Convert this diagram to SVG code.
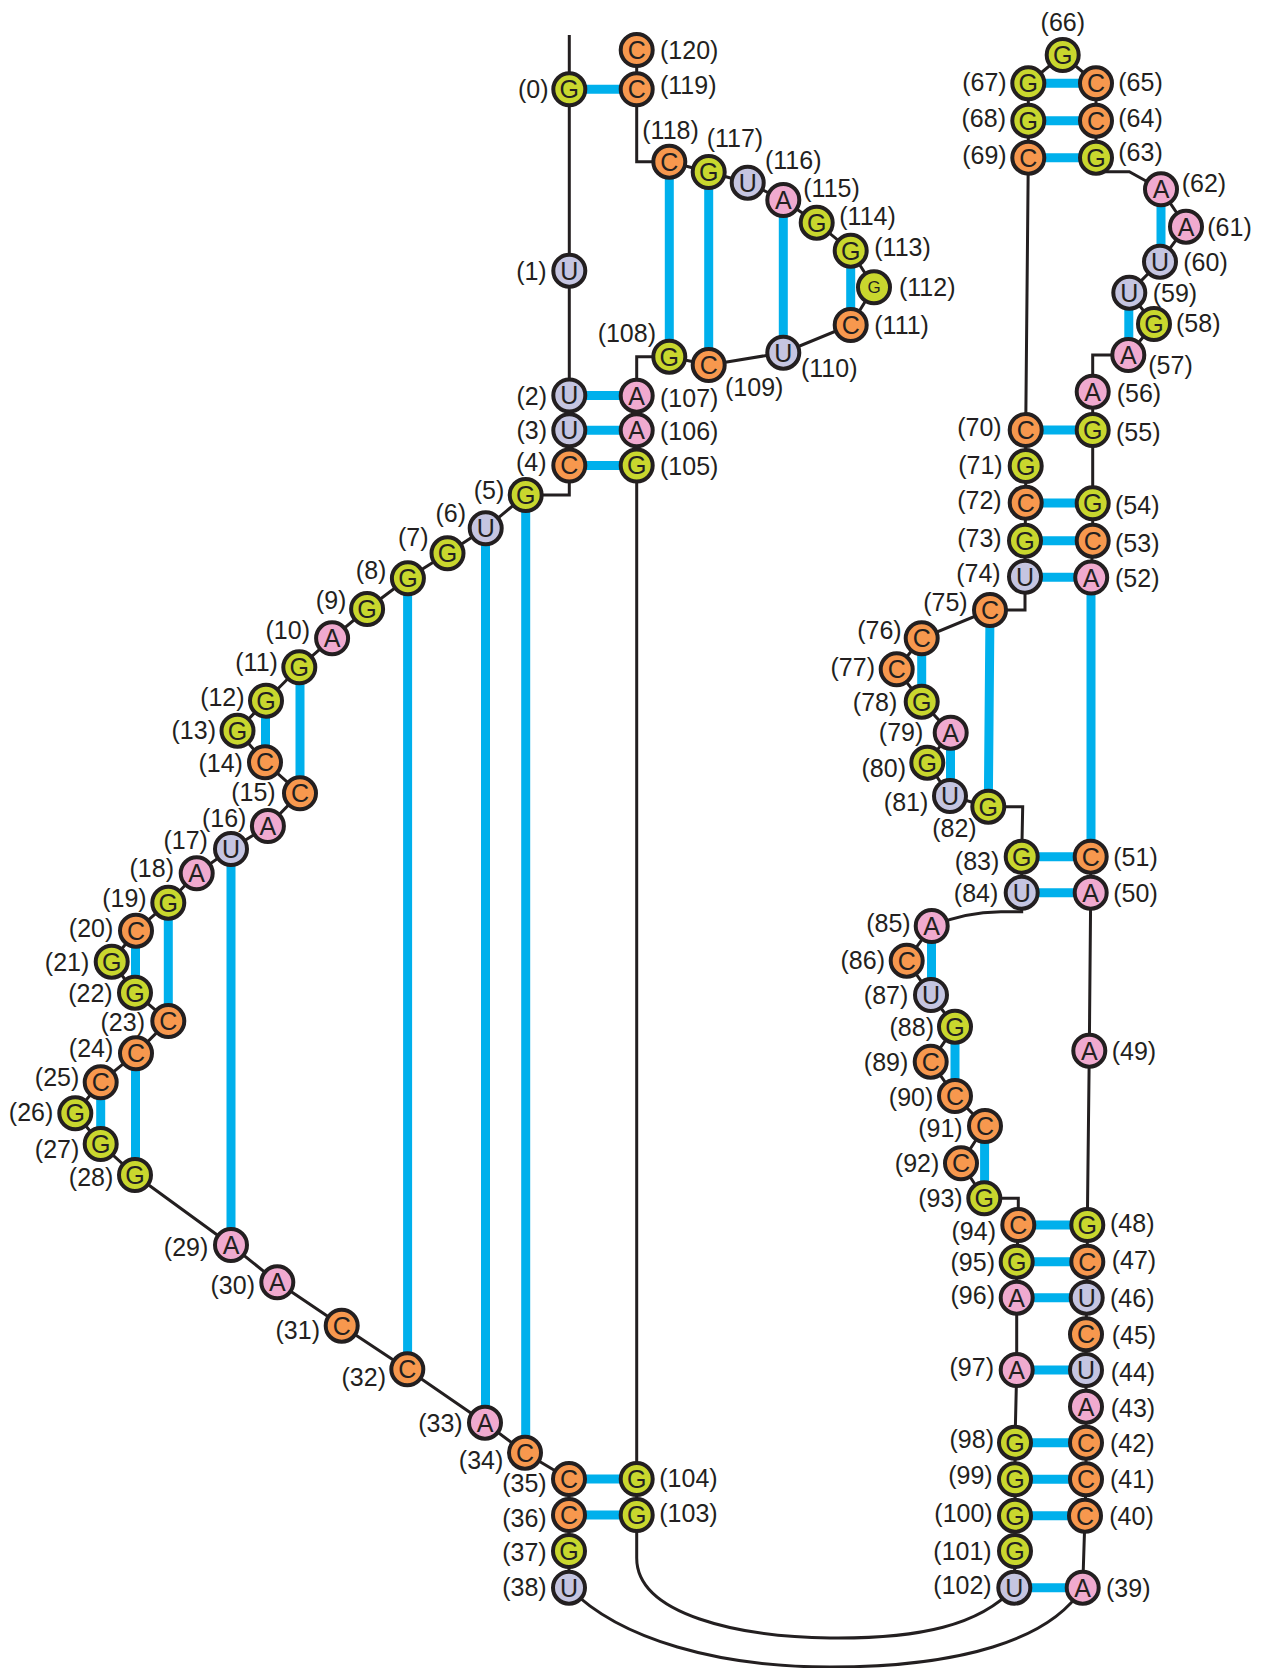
<svg xmlns="http://www.w3.org/2000/svg" width="1270" height="1668" viewBox="0 0 1270 1668">
<style>
  .bb{fill:none;stroke:#231f20;stroke-width:3;stroke-linejoin:miter}
  .bp{fill:none;stroke:#00b0ec;stroke-width:9}
  circle{stroke:#231f20;stroke-width:4;r:16px}
  .A{fill:#f0aacf}
  .C{fill:#f7984e}
  .G{fill:#c9d72e}
  .U{fill:#c5c5e1}
  text{font-family:"Liberation Sans",Arial,Helvetica,sans-serif;fill:#231f20}
  .b{font-size:25px;text-anchor:middle}
  .bs{font-size:17px;text-anchor:middle}
  .l{font-size:25px}
  .le{text-anchor:end}
  .lm{text-anchor:middle}
</style>
<rect width="1270" height="1668" fill="#ffffff"/>

<!-- connectors: backbone then base pairs -->
<g id="connectors">
  <g id="backbone">
    <polyline class="bb" points="569.3,35 569.3,89.3 569.3,270.7 569.3,395.5 569.3,430.3 569.3,465.5 569.3,495 525.7,495 485.7,528.3 447.5,553.3 407.9,578.3 367.1,609 332.1,638.3 299.3,667.3 266,700.7 237.5,730.7 265,762.3 300,793.3 267.9,826 231,849 196.7,873.3 168.3,902.7 136,930.7 111.7,961.7 135,992.7 168.3,1021 136,1053.3 100.7,1082.3 75.3,1113.3 100.7,1144 135,1175 231,1245 277.3,1282.3 341.7,1325.7 407.3,1369.3 485,1422.7 525,1452.7 569,1479 569,1515 569,1551 569,1587.7"/>
    <path class="bb" d="M569,1587.7 C620,1640 720,1667 830,1667 C960,1667 1050,1640 1082.7,1587.7"/>
    <path class="bb" d="M1082.7,1587.7 L1085,1515.7 L1086,1479.3 L1086,1442.7 L1086,1406.7 L1086,1370 L1086,1334.3 L1086.7,1297.7 L1087.3,1261.7 L1087.3,1225 L1089.3,1050.7 L1090.7,892.7 L1090.7,856.7 L1091.2,577.6 L1092.7,540.7 L1092.7,503.3 L1092.7,430 L1092.7,391.7 L1092.7,355 L1128.3,355 L1154,324 L1129.3,292.7 L1160,261.7 L1186,226.7 L1161,189.3 L1129.3,171.7 L1096,171.7 L1096,157.7 L1096,120.7 L1096,83.3 L1062.7,55 L1028.3,83.3 L1028.3,120.7 L1028.3,157.7 L1025.7,430 L1025.7,466 L1025.7,502.7 L1025,540.7 L1025,576.7 L1025,610 L990,610 L921.7,638.3 L896.7,669.3 L921.7,701.7 L950.7,732.7 L927.3,762.7 L950,796 L988.3,806.7 L1022.7,806.7 L1021.7,856.7 L1021.7,892.7 L1021.7,911.7 L1001,911.7 Q965,912 931.7,926 L906.7,960.7 L931,995 L955,1026.7 L930.7,1061.7 L955,1096 L985,1126 L961,1163.3 L984.3,1198.3 L1018.3,1198.3 L1018.3,1225 L1016.7,1261.7 L1016.7,1297.7 L1016.7,1370 L1015,1442.7 L1015,1479.3 L1015,1515.7 L1015,1551 L1014.3,1587.7"/>
    <path class="bb" d="M636.7,1515 V1558 C636.7,1615 740,1637 830,1638 C920,1639 980,1625 1014.3,1587.7"/>
    <polyline class="bb" points="636.7,1515 636.7,1479 636.7,465.5 636.7,430.3 636.7,395.7 636.7,356.7 669.3,356.7 708.7,365 783.3,352.7 850.7,325 874,287.3 850.7,250.7 816.7,222.7 783.3,200 747.7,182.7 708.7,172 669.3,161.7 636.7,161.7 636.7,89.3 636.7,50"/>
  </g>
  <g id="pairs">
    <path class="bp" d="M569.3,89.3 H636.7 M569.3,395.6 H636.7 M569.3,430.3 H636.7 M569.3,465.5 H636.7 M569,1479 H636.7 M569,1515 H636.7"/>
    <path class="bp" d="M1028.3,83.3 H1096 M1028.3,120.7 H1096 M1028.3,157.7 H1096 M1025.7,430 H1092.7 M1025.7,503 H1092.7 M1025,540.7 H1092.7 M1025,577.2 H1091.2 M1021.7,856.7 H1090.7 M1021.7,892.7 H1090.7"/>
    <path class="bp" d="M1018.3,1225 H1087.3 M1016.7,1261.7 H1087.3 M1016.7,1297.7 H1086.7 M1016.7,1370 H1086 M1015,1442.7 H1086 M1015,1479.3 H1086 M1015,1515.7 H1085 M1014.3,1587.7 H1082.7"/>
    <path class="bp" d="M669.3,161.7 V356.7 M708.7,172 V365 M783.3,200 V352.7 M850.7,250.7 V325"/>
    <path class="bp" d="M525.7,495 V1452.7 M485.5,528.3 V1422.7 M407.6,578.3 V1369.3 M300,667.3 V793.3 M265.5,700.7 V762.3 M231,849 V1245 M168.3,902.7 V1021 M135.5,930.7 V992.7 M135.5,1053.3 V1175 M100.7,1082.3 V1144"/>
    <path class="bp" d="M1161,189.3 V261.7 M1128.8,292.7 V355 M990,610 L988.3,806.7 M921.7,638.3 V701.7 M950.5,732.7 V796 M1091,577.6 V856.7 M931.5,926 V995 M955,1026.7 V1096 M984.6,1126 V1198.3"/>
  </g>
</g>

<!-- nucleotides -->
<g id="nodes">
<g id="n0"><circle class="G" cx="569.3" cy="89.3" r="16"/><text class="b" x="569.3" y="98.2">G</text><text class="l le" x="548.5" y="98.3">(0)</text></g>
<g id="n1"><circle class="U" cx="569.3" cy="270.7" r="16"/><text class="b" x="569.3" y="279.6">U</text><text class="l le" x="546.7" y="279.7">(1)</text></g>
<g id="n2"><circle class="U" cx="569.3" cy="395.5" r="16"/><text class="b" x="569.3" y="404.4">U</text><text class="l le" x="547" y="404.5">(2)</text></g>
<g id="n3"><circle class="U" cx="569.3" cy="430.3" r="16"/><text class="b" x="569.3" y="439.2">U</text><text class="l le" x="547" y="439.3">(3)</text></g>
<g id="n4"><circle class="C" cx="569.3" cy="465.5" r="16"/><text class="b" x="569.3" y="474.4">C</text><text class="l le" x="546.5" y="470.7">(4)</text></g>
<g id="n5"><circle class="G" cx="525.7" cy="495" r="16"/><text class="b" x="525.7" y="503.9">G</text><text class="l le" x="504.3" y="499">(5)</text></g>
<g id="n6"><circle class="U" cx="485.7" cy="528.3" r="16"/><text class="b" x="485.7" y="537.2">U</text><text class="l le" x="466" y="522.3">(6)</text></g>
<g id="n7"><circle class="G" cx="447.5" cy="553.3" r="16"/><text class="b" x="447.5" y="562.2">G</text><text class="l le" x="428.6" y="545.7">(7)</text></g>
<g id="n8"><circle class="G" cx="407.9" cy="578.3" r="16"/><text class="b" x="407.9" y="587.2">G</text><text class="l le" x="386.4" y="579">(8)</text></g>
<g id="n9"><circle class="G" cx="367.1" cy="609" r="16"/><text class="b" x="367.1" y="617.9">G</text><text class="l le" x="346.4" y="609">(9)</text></g>
<g id="n10"><circle class="A" cx="332.1" cy="638.3" r="16"/><text class="b" x="332.1" y="647.2">A</text><text class="l le" x="310" y="639">(10)</text></g>
<g id="n11"><circle class="G" cx="299.3" cy="667.3" r="16"/><text class="b" x="299.3" y="676.2">G</text><text class="l le" x="277.9" y="670.7">(11)</text></g>
<g id="n12"><circle class="G" cx="266" cy="700.7" r="16"/><text class="b" x="266" y="709.6">G</text><text class="l le" x="244.6" y="705.7">(12)</text></g>
<g id="n13"><circle class="G" cx="237.5" cy="730.7" r="16"/><text class="b" x="237.5" y="739.6">G</text><text class="l le" x="216" y="739">(13)</text></g>
<g id="n14"><circle class="C" cx="265" cy="762.3" r="16"/><text class="b" x="265" y="771.2">C</text><text class="l le" x="242.9" y="772.3">(14)</text></g>
<g id="n15"><circle class="C" cx="300" cy="793.3" r="16"/><text class="b" x="300" y="802.2">C</text><text class="l le" x="275.7" y="800.7">(15)</text></g>
<g id="n16"><circle class="A" cx="267.9" cy="826" r="16"/><text class="b" x="267.9" y="834.9">A</text><text class="l le" x="246.4" y="827.3">(16)</text></g>
<g id="n17"><circle class="U" cx="231" cy="849" r="16"/><text class="b" x="231" y="857.9">U</text><text class="l le" x="207.9" y="849">(17)</text></g>
<g id="n18"><circle class="A" cx="196.7" cy="873.3" r="16"/><text class="b" x="196.7" y="882.2">A</text><text class="l le" x="174" y="877.3">(18)</text></g>
<g id="n19"><circle class="G" cx="168.3" cy="902.7" r="16"/><text class="b" x="168.3" y="911.6">G</text><text class="l le" x="146.7" y="907.3">(19)</text></g>
<g id="n20"><circle class="C" cx="136" cy="930.7" r="16"/><text class="b" x="136" y="939.6">C</text><text class="l le" x="113.3" y="937.3">(20)</text></g>
<g id="n21"><circle class="G" cx="111.7" cy="961.7" r="16"/><text class="b" x="111.7" y="970.6">G</text><text class="l le" x="89.3" y="970.7">(21)</text></g>
<g id="n22"><circle class="G" cx="135" cy="992.7" r="16"/><text class="b" x="135" y="1001.6">G</text><text class="l le" x="112.7" y="1001.7">(22)</text></g>
<g id="n23"><circle class="C" cx="168.3" cy="1021" r="16"/><text class="b" x="168.3" y="1029.9">C</text><text class="l le" x="145" y="1030.7">(23)</text></g>
<g id="n24"><circle class="C" cx="136" cy="1053.3" r="16"/><text class="b" x="136" y="1062.2">C</text><text class="l le" x="113.3" y="1057.3">(24)</text></g>
<g id="n25"><circle class="C" cx="100.7" cy="1082.3" r="16"/><text class="b" x="100.7" y="1091.2">C</text><text class="l le" x="79.3" y="1086.3">(25)</text></g>
<g id="n26"><circle class="G" cx="75.3" cy="1113.3" r="16"/><text class="b" x="75.3" y="1122.2">G</text><text class="l le" x="53.3" y="1120.7">(26)</text></g>
<g id="n27"><circle class="G" cx="100.7" cy="1144" r="16"/><text class="b" x="100.7" y="1152.9">G</text><text class="l le" x="79.3" y="1158.3">(27)</text></g>
<g id="n28"><circle class="G" cx="135" cy="1175" r="16"/><text class="b" x="135" y="1183.9">G</text><text class="l le" x="113.3" y="1186.3">(28)</text></g>
<g id="n29"><circle class="A" cx="231" cy="1245" r="16"/><text class="b" x="231" y="1253.9">A</text><text class="l le" x="208.3" y="1256.3">(29)</text></g>
<g id="n30"><circle class="A" cx="277.3" cy="1282.3" r="16"/><text class="b" x="277.3" y="1291.2">A</text><text class="l le" x="255" y="1294">(30)</text></g>
<g id="n31"><circle class="C" cx="341.7" cy="1325.7" r="16"/><text class="b" x="341.7" y="1334.6">C</text><text class="l le" x="320" y="1339">(31)</text></g>
<g id="n32"><circle class="C" cx="407.3" cy="1369.3" r="16"/><text class="b" x="407.3" y="1378.2">C</text><text class="l le" x="386" y="1385.7">(32)</text></g>
<g id="n33"><circle class="A" cx="485" cy="1422.7" r="16"/><text class="b" x="485" y="1431.6">A</text><text class="l le" x="462.7" y="1432.3">(33)</text></g>
<g id="n34"><circle class="C" cx="525" cy="1452.7" r="16"/><text class="b" x="525" y="1461.6">C</text><text class="l le" x="503.3" y="1469">(34)</text></g>
<g id="n35"><circle class="C" cx="569" cy="1479" r="16"/><text class="b" x="569" y="1487.9">C</text><text class="l le" x="546.7" y="1492.3">(35)</text></g>
<g id="n36"><circle class="C" cx="569" cy="1515" r="16"/><text class="b" x="569" y="1523.9">C</text><text class="l le" x="546.7" y="1527.3">(36)</text></g>
<g id="n37"><circle class="G" cx="569" cy="1551" r="16"/><text class="b" x="569" y="1559.9">G</text><text class="l le" x="546.7" y="1560.7">(37)</text></g>
<g id="n38"><circle class="U" cx="569" cy="1587.7" r="16"/><text class="b" x="569" y="1596.6">U</text><text class="l le" x="546.7" y="1595.7">(38)</text></g>
<g id="n39"><circle class="A" cx="1082.7" cy="1587.7" r="16"/><text class="b" x="1082.7" y="1596.6">A</text><text class="l" x="1106" y="1596.7">(39)</text></g>
<g id="n40"><circle class="C" cx="1085" cy="1515.7" r="16"/><text class="b" x="1085" y="1524.6">C</text><text class="l" x="1109.3" y="1524.7">(40)</text></g>
<g id="n41"><circle class="C" cx="1086" cy="1479.3" r="16"/><text class="b" x="1086" y="1488.2">C</text><text class="l" x="1110" y="1488.3">(41)</text></g>
<g id="n42"><circle class="C" cx="1086" cy="1442.7" r="16"/><text class="b" x="1086" y="1451.6">C</text><text class="l" x="1110" y="1451.7">(42)</text></g>
<g id="n43"><circle class="A" cx="1086" cy="1406.7" r="16"/><text class="b" x="1086" y="1415.6">A</text><text class="l" x="1110.7" y="1417.3">(43)</text></g>
<g id="n44"><circle class="U" cx="1086" cy="1370" r="16"/><text class="b" x="1086" y="1378.9">U</text><text class="l" x="1110.7" y="1380.7">(44)</text></g>
<g id="n45"><circle class="C" cx="1086" cy="1334.3" r="16"/><text class="b" x="1086" y="1343.2">C</text><text class="l" x="1111.7" y="1344">(45)</text></g>
<g id="n46"><circle class="U" cx="1086.7" cy="1297.7" r="16"/><text class="b" x="1086.7" y="1306.6">U</text><text class="l" x="1110" y="1306.7">(46)</text></g>
<g id="n47"><circle class="C" cx="1087.3" cy="1261.7" r="16"/><text class="b" x="1087.3" y="1270.6">C</text><text class="l" x="1111.7" y="1269">(47)</text></g>
<g id="n48"><circle class="G" cx="1087.3" cy="1225" r="16"/><text class="b" x="1087.3" y="1233.9">G</text><text class="l" x="1110" y="1231.7">(48)</text></g>
<g id="n49"><circle class="A" cx="1089.3" cy="1050.7" r="16"/><text class="b" x="1089.3" y="1059.6">A</text><text class="l" x="1111.7" y="1059.7">(49)</text></g>
<g id="n50"><circle class="A" cx="1090.7" cy="892.7" r="16"/><text class="b" x="1090.7" y="901.6">A</text><text class="l" x="1113.3" y="901.7">(50)</text></g>
<g id="n51"><circle class="C" cx="1090.7" cy="856.7" r="16"/><text class="b" x="1090.7" y="865.6">C</text><text class="l" x="1113.3" y="865.7">(51)</text></g>
<g id="n52"><circle class="A" cx="1091.2" cy="577.6" r="16"/><text class="b" x="1091.2" y="586.5">A</text><text class="l" x="1115" y="587.3">(52)</text></g>
<g id="n53"><circle class="C" cx="1092.7" cy="540.7" r="16"/><text class="b" x="1092.7" y="549.6">C</text><text class="l" x="1115" y="551.7">(53)</text></g>
<g id="n54"><circle class="G" cx="1092.7" cy="503.3" r="16"/><text class="b" x="1092.7" y="512.2">G</text><text class="l" x="1115" y="514">(54)</text></g>
<g id="n55"><circle class="G" cx="1092.7" cy="430" r="16"/><text class="b" x="1092.7" y="438.9">G</text><text class="l" x="1116" y="440.7">(55)</text></g>
<g id="n56"><circle class="A" cx="1092.7" cy="391.7" r="16"/><text class="b" x="1092.7" y="400.6">A</text><text class="l" x="1116.7" y="402.3">(56)</text></g>
<g id="n57"><circle class="A" cx="1128.3" cy="355" r="16"/><text class="b" x="1128.3" y="363.9">A</text><text class="l" x="1148.3" y="374">(57)</text></g>
<g id="n58"><circle class="G" cx="1154" cy="324" r="16"/><text class="b" x="1154" y="332.9">G</text><text class="l" x="1176" y="332.3">(58)</text></g>
<g id="n59"><circle class="U" cx="1129.3" cy="292.7" r="16"/><text class="b" x="1129.3" y="301.6">U</text><text class="l" x="1152.7" y="301.7">(59)</text></g>
<g id="n60"><circle class="U" cx="1160" cy="261.7" r="16"/><text class="b" x="1160" y="270.6">U</text><text class="l" x="1183.3" y="270.7">(60)</text></g>
<g id="n61"><circle class="A" cx="1186" cy="226.7" r="16"/><text class="b" x="1186" y="235.6">A</text><text class="l" x="1207.3" y="235.7">(61)</text></g>
<g id="n62"><circle class="A" cx="1161" cy="189.3" r="16"/><text class="b" x="1161" y="198.2">A</text><text class="l" x="1181.7" y="192.3">(62)</text></g>
<g id="n63"><circle class="G" cx="1096" cy="157.7" r="16"/><text class="b" x="1096" y="166.6">G</text><text class="l" x="1118.3" y="160.7">(63)</text></g>
<g id="n64"><circle class="C" cx="1096" cy="120.7" r="16"/><text class="b" x="1096" y="129.6">C</text><text class="l" x="1118.3" y="127.3">(64)</text></g>
<g id="n65"><circle class="C" cx="1096" cy="83.3" r="16"/><text class="b" x="1096" y="92.2">C</text><text class="l" x="1118.3" y="90.7">(65)</text></g>
<g id="n66"><circle class="G" cx="1062.7" cy="55" r="16"/><text class="b" x="1062.7" y="63.9">G</text><text class="l lm" x="1062.8" y="30.7">(66)</text></g>
<g id="n67"><circle class="G" cx="1028.3" cy="83.3" r="16"/><text class="b" x="1028.3" y="92.2">G</text><text class="l le" x="1006.7" y="90.7">(67)</text></g>
<g id="n68"><circle class="G" cx="1028.3" cy="120.7" r="16"/><text class="b" x="1028.3" y="129.6">G</text><text class="l le" x="1006" y="127.3">(68)</text></g>
<g id="n69"><circle class="C" cx="1028.3" cy="157.7" r="16"/><text class="b" x="1028.3" y="166.6">C</text><text class="l le" x="1006.7" y="164">(69)</text></g>
<g id="n70"><circle class="C" cx="1025.7" cy="430" r="16"/><text class="b" x="1025.7" y="438.9">C</text><text class="l le" x="1001.7" y="436">(70)</text></g>
<g id="n71"><circle class="G" cx="1025.7" cy="466" r="16"/><text class="b" x="1025.7" y="474.9">G</text><text class="l le" x="1002.7" y="474">(71)</text></g>
<g id="n72"><circle class="C" cx="1025.7" cy="502.7" r="16"/><text class="b" x="1025.7" y="511.6">C</text><text class="l le" x="1001.7" y="509">(72)</text></g>
<g id="n73"><circle class="G" cx="1025" cy="540.7" r="16"/><text class="b" x="1025" y="549.6">G</text><text class="l le" x="1001.7" y="547.3">(73)</text></g>
<g id="n74"><circle class="U" cx="1025" cy="576.7" r="16"/><text class="b" x="1025" y="585.6">U</text><text class="l le" x="1000.7" y="582.3">(74)</text></g>
<g id="n75"><circle class="C" cx="990" cy="610" r="16"/><text class="b" x="990" y="618.9">C</text><text class="l le" x="967.7" y="610.7">(75)</text></g>
<g id="n76"><circle class="C" cx="921.7" cy="638.3" r="16"/><text class="b" x="921.7" y="647.2">C</text><text class="l le" x="901.7" y="639">(76)</text></g>
<g id="n77"><circle class="C" cx="896.7" cy="669.3" r="16"/><text class="b" x="896.7" y="678.2">C</text><text class="l le" x="875" y="675.7">(77)</text></g>
<g id="n78"><circle class="G" cx="921.7" cy="701.7" r="16"/><text class="b" x="921.7" y="710.6">G</text><text class="l le" x="897.3" y="710.7">(78)</text></g>
<g id="n79"><circle class="A" cx="950.7" cy="732.7" r="16"/><text class="b" x="950.7" y="741.6">A</text><text class="l le" x="923.3" y="740.7">(79)</text></g>
<g id="n80"><circle class="G" cx="927.3" cy="762.7" r="16"/><text class="b" x="927.3" y="771.6">G</text><text class="l le" x="906" y="777.3">(80)</text></g>
<g id="n81"><circle class="U" cx="950" cy="796" r="16"/><text class="b" x="950" y="804.9">U</text><text class="l le" x="928.3" y="810.7">(81)</text></g>
<g id="n82"><circle class="G" cx="988.3" cy="806.7" r="16"/><text class="b" x="988.3" y="815.6">G</text><text class="l le" x="976.7" y="837.3">(82)</text></g>
<g id="n83"><circle class="G" cx="1021.7" cy="856.7" r="16"/><text class="b" x="1021.7" y="865.6">G</text><text class="l le" x="999.3" y="869.7">(83)</text></g>
<g id="n84"><circle class="U" cx="1021.7" cy="892.7" r="16"/><text class="b" x="1021.7" y="901.6">U</text><text class="l le" x="998.3" y="901.7">(84)</text></g>
<g id="n85"><circle class="A" cx="931.7" cy="926" r="16"/><text class="b" x="931.7" y="934.9">A</text><text class="l le" x="910.7" y="932.3">(85)</text></g>
<g id="n86"><circle class="C" cx="906.7" cy="960.7" r="16"/><text class="b" x="906.7" y="969.6">C</text><text class="l le" x="885" y="969">(86)</text></g>
<g id="n87"><circle class="U" cx="931" cy="995" r="16"/><text class="b" x="931" y="1003.9">U</text><text class="l le" x="908.3" y="1004">(87)</text></g>
<g id="n88"><circle class="G" cx="955" cy="1026.7" r="16"/><text class="b" x="955" y="1035.6">G</text><text class="l le" x="934" y="1035.7">(88)</text></g>
<g id="n89"><circle class="C" cx="930.7" cy="1061.7" r="16"/><text class="b" x="930.7" y="1070.6">C</text><text class="l le" x="908.3" y="1070.7">(89)</text></g>
<g id="n90"><circle class="C" cx="955" cy="1096" r="16"/><text class="b" x="955" y="1104.9">C</text><text class="l le" x="933.3" y="1105.7">(90)</text></g>
<g id="n91"><circle class="C" cx="985" cy="1126" r="16"/><text class="b" x="985" y="1134.9">C</text><text class="l le" x="962.7" y="1137.3">(91)</text></g>
<g id="n92"><circle class="C" cx="961" cy="1163.3" r="16"/><text class="b" x="961" y="1172.2">C</text><text class="l le" x="939.3" y="1172.3">(92)</text></g>
<g id="n93"><circle class="G" cx="984.3" cy="1198.3" r="16"/><text class="b" x="984.3" y="1207.2">G</text><text class="l le" x="962.7" y="1207.3">(93)</text></g>
<g id="n94"><circle class="C" cx="1018.3" cy="1225" r="16"/><text class="b" x="1018.3" y="1233.9">C</text><text class="l le" x="996" y="1239.7">(94)</text></g>
<g id="n95"><circle class="G" cx="1016.7" cy="1261.7" r="16"/><text class="b" x="1016.7" y="1270.6">G</text><text class="l le" x="995" y="1270.7">(95)</text></g>
<g id="n96"><circle class="A" cx="1016.7" cy="1297.7" r="16"/><text class="b" x="1016.7" y="1306.6">A</text><text class="l le" x="995" y="1304">(96)</text></g>
<g id="n97"><circle class="A" cx="1016.7" cy="1370" r="16"/><text class="b" x="1016.7" y="1378.9">A</text><text class="l le" x="994" y="1375.7">(97)</text></g>
<g id="n98"><circle class="G" cx="1015" cy="1442.7" r="16"/><text class="b" x="1015" y="1451.6">G</text><text class="l le" x="994" y="1448.3">(98)</text></g>
<g id="n99"><circle class="G" cx="1015" cy="1479.3" r="16"/><text class="b" x="1015" y="1488.2">G</text><text class="l le" x="992.7" y="1484">(99)</text></g>
<g id="n100"><circle class="G" cx="1015" cy="1515.7" r="16"/><text class="b" x="1015" y="1524.6">G</text><text class="l le" x="992.7" y="1522.3">(100)</text></g>
<g id="n101"><circle class="G" cx="1015" cy="1551" r="16"/><text class="b" x="1015" y="1559.9">G</text><text class="l le" x="991.7" y="1560">(101)</text></g>
<g id="n102"><circle class="U" cx="1014.3" cy="1587.7" r="16"/><text class="b" x="1014.3" y="1596.6">U</text><text class="l le" x="991.7" y="1594">(102)</text></g>
<g id="n103"><circle class="G" cx="636.7" cy="1515" r="16"/><text class="b" x="636.7" y="1523.9">G</text><text class="l" x="659.3" y="1522.3">(103)</text></g>
<g id="n104"><circle class="G" cx="636.7" cy="1479" r="16"/><text class="b" x="636.7" y="1487.9">G</text><text class="l" x="659.3" y="1487.3">(104)</text></g>
<g id="n105"><circle class="G" cx="636.7" cy="465.5" r="16"/><text class="b" x="636.7" y="474.4">G</text><text class="l" x="660" y="474.5">(105)</text></g>
<g id="n106"><circle class="A" cx="636.7" cy="430.3" r="16"/><text class="b" x="636.7" y="439.2">A</text><text class="l" x="660" y="439.5">(106)</text></g>
<g id="n107"><circle class="A" cx="636.7" cy="395.7" r="16"/><text class="b" x="636.7" y="404.6">A</text><text class="l" x="660" y="407.3">(107)</text></g>
<g id="n108"><circle class="G" cx="669.3" cy="356.7" r="16"/><text class="b" x="669.3" y="365.6">G</text><text class="l le" x="656" y="342.3">(108)</text></g>
<g id="n109"><circle class="C" cx="708.7" cy="365" r="16"/><text class="b" x="708.7" y="373.9">C</text><text class="l" x="725" y="395.7">(109)</text></g>
<g id="n110"><circle class="U" cx="783.3" cy="352.7" r="16"/><text class="b" x="783.3" y="361.6">U</text><text class="l" x="801" y="377.3">(110)</text></g>
<g id="n111"><circle class="C" cx="850.7" cy="325" r="16"/><text class="b" x="850.7" y="333.9">C</text><text class="l" x="874.3" y="334">(111)</text></g>
<g id="n112"><circle class="G" cx="874" cy="287.3" r="16"/><text class="bs" x="874" y="293.4">G</text><text class="l" x="899" y="296">(112)</text></g>
<g id="n113"><circle class="G" cx="850.7" cy="250.7" r="16"/><text class="b" x="850.7" y="259.6">G</text><text class="l" x="874.3" y="255.7">(113)</text></g>
<g id="n114"><circle class="G" cx="816.7" cy="222.7" r="16"/><text class="b" x="816.7" y="231.6">G</text><text class="l" x="839.3" y="225">(114)</text></g>
<g id="n115"><circle class="A" cx="783.3" cy="200" r="16"/><text class="b" x="783.3" y="208.9">A</text><text class="l" x="803.3" y="197.3">(115)</text></g>
<g id="n116"><circle class="U" cx="747.7" cy="182.7" r="16"/><text class="b" x="747.7" y="191.6">U</text><text class="l" x="765" y="169">(116)</text></g>
<g id="n117"><circle class="G" cx="708.7" cy="172" r="16"/><text class="b" x="708.7" y="180.9">G</text><text class="l" x="706.7" y="147.3">(117)</text></g>
<g id="n118"><circle class="C" cx="669.3" cy="161.7" r="16"/><text class="b" x="669.3" y="170.6">C</text><text class="l" x="642.3" y="139">(118)</text></g>
<g id="n119"><circle class="C" cx="636.7" cy="89.3" r="16"/><text class="b" x="636.7" y="98.2">C</text><text class="l" x="660" y="94">(119)</text></g>
<g id="n120"><circle class="C" cx="636.7" cy="50" r="16"/><text class="b" x="636.7" y="58.9">C</text><text class="l" x="660" y="59">(120)</text></g>
</g>
</svg>
